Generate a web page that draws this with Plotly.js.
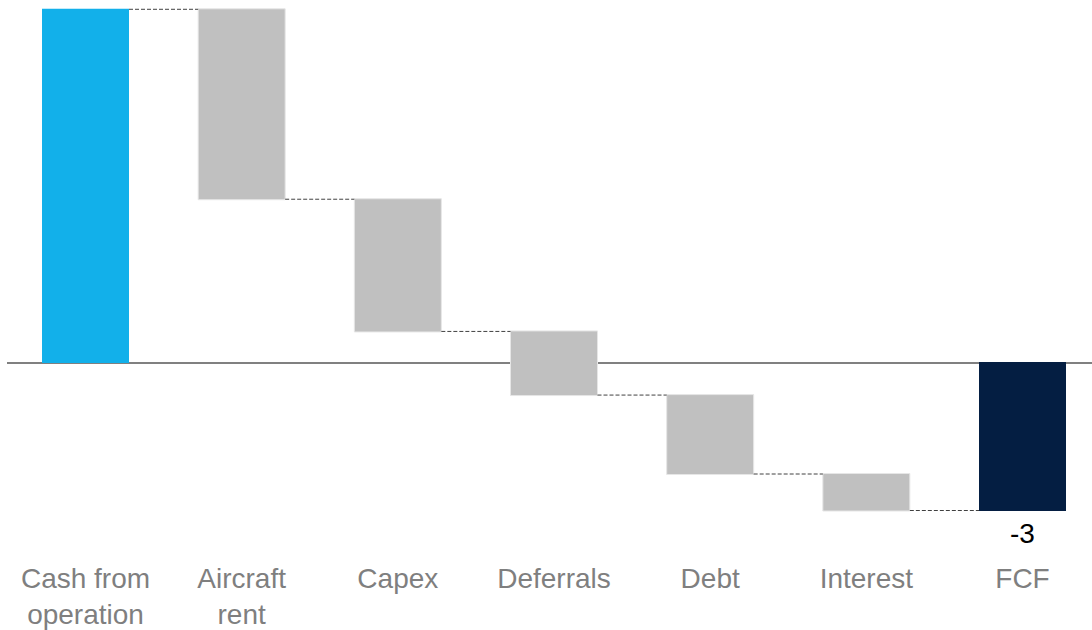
<!DOCTYPE html>
<html>
<head>
<meta charset="utf-8">
<script src="https://cdn.plot.ly/plotly-3.0.1.min.js"></script>
<style>
  html, body { margin: 0; padding: 0; background: #ffffff; }
  #chart { width: 1092px; height: 630px; }
</style>
</head>
<body>
<div id="chart"></div>
<script>
// Free cash flow bridge (bn)
const categories = ['Cash from operation', 'Aircraft rent', 'Capex', 'Deferrals', 'Debt', 'Interest', 'FCF'];
const tickLabels = ['Cash from<br>operation', 'Aircraft<br>rent', 'Capex', 'Deferrals', 'Debt', 'Interest', 'FCF'];
const values = [7.16, -3.85, -2.68, -1.29, -1.60, -0.74, -3];
const measures = ['relative', 'relative', 'relative', 'relative', 'relative', 'relative', 'absolute'];
const valueLabels = ['', '', '', '', '', '', '-3'];

const FONT = 'Liberation Sans, Arial, sans-serif';

const trace = {
  type: 'waterfall',
  x: categories,
  y: values,
  measure: measures,
  textinfo: 'none',
  cliponaxis: false,
  increasing: { marker: { color: '#12B0EA', line: { width: 0 } } },
  decreasing: { marker: { color: '#C0C0C0', line: { color: '#E6E6E6', width: 1 } } },
  totals: { marker: { color: '#041E42', line: { width: 0 } } },
  connector: { mode: 'between', line: { color: '#404040', width: 1, dash: '4px,2px' } },
  hoverinfo: 'skip'
};

// Value labels sit just below the end of their bars
const valueAnnotations = [];
valueLabels.forEach((label, i) => {
  if (!label) return;
  valueAnnotations.push({
    x: categories[i],
    y: values[i],
    xref: 'x',
    yref: 'y',
    text: label,
    showarrow: false,
    xanchor: 'center',
    yanchor: 'middle',
    yshift: -22.5,
    font: { family: FONT, size: 28, color: '#000000' }
  });
});

const layout = {
  width: 1092,
  height: 630,
  autosize: false,
  margin: { l: 7, r: 0, t: 5, b: 71, pad: 0 },
  paper_bgcolor: '#ffffff',
  plot_bgcolor: '#ffffff',
  showlegend: false,
  waterfallgap: 0.443,
  font: { family: FONT },
  annotations: valueAnnotations,
  xaxis: {
    type: 'category',
    range: [-0.5027, 6.445],
    tickmode: 'array',
    tickvals: categories,
    ticktext: tickLabels,
    tickfont: { family: FONT, size: 28, color: '#7F7F7F' },
    showgrid: false,
    showline: false,
    zeroline: false,
    ticks: ''
  },
  yaxis: {
    range: [-3.983, 7.247],
    showgrid: false,
    showticklabels: false,
    showline: false,
    ticks: '',
    zeroline: true,
    zerolinecolor: '#808080',
    zerolinewidth: 2
  }
};

Plotly.newPlot('chart', [trace], layout, { displayModeBar: false, staticPlot: true });
</script>
</body>
</html>
